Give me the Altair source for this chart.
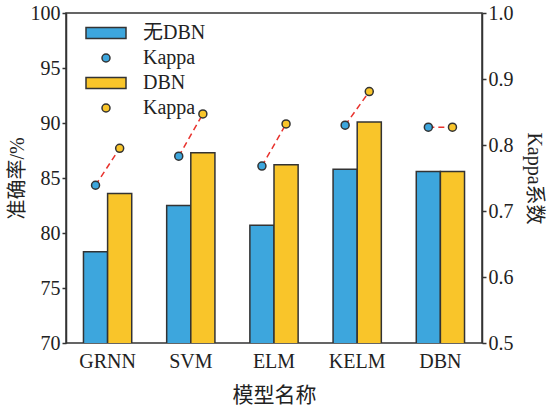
import altair as alt
import pandas as pd

models = ["GRNN", "SVM", "ELM", "KELM", "DBN"]
groups = ["无DBN", "DBN"]
acc_no = [78.3, 82.5, 80.7, 85.8, 85.6]
acc_dbn = [83.6, 87.3, 86.2, 90.1, 85.6]
kappa_no = [0.739, 0.783, 0.768, 0.830, 0.827]
kappa_dbn = [0.795, 0.847, 0.832, 0.881, 0.827]
legend_keys = ["无DBN", "Kappa", "DBN", "Kappa "]

BLUE = "#3DA6DD"
YELLOW = "#F9C52A"
DARK = "#333333"
FONT = "Liberation Serif, Noto Sans CJK SC"

bar_rows = []
pt_rows = []
for i, m in enumerate(models):
    bar_rows.append({"model": m, "group": "无DBN", "acc": acc_no[i], "key": "无DBN"})
    bar_rows.append({"model": m, "group": "DBN", "acc": acc_dbn[i], "key": "DBN"})
    pt_rows.append({"model": m, "group": "无DBN", "kappa": kappa_no[i], "key": "Kappa"})
    pt_rows.append({"model": m, "group": "DBN", "kappa": kappa_dbn[i], "key": "Kappa "})
bars_df = pd.DataFrame(bar_rows)
pts_df = pd.DataFrame(pt_rows)

rect_path = "M-5,-1.4L5,-1.4L5,1.4L-5,1.4Z"

x_enc = alt.X("model:N", sort=models, title="模型名称",
              scale=alt.Scale(paddingInner=0.42, paddingOuter=0.21),
              axis=alt.Axis(labelAngle=0, ticks=False, domain=False, labelPadding=8,
                            titlePadding=13, titleFontSize=21))
xoff = alt.XOffset("group:N", sort=groups, scale=alt.Scale(domain=groups, paddingInner=0, paddingOuter=0))

color_enc = alt.Color("key:N", title=None,
                      scale=alt.Scale(domain=legend_keys, range=[BLUE, BLUE, YELLOW, YELLOW]),
                      legend=alt.Legend(orient="none", legendX=30, legendY=10,
                                        labelExpr="trim(datum.label)",
                                        labelFontSize=20, labelFont=FONT, labelColor="#222",
                                        symbolStrokeColor=DARK, symbolStrokeWidth=1.5,
                                        symbolSize=64, symbolOpacity=1,
                                        rowPadding=5, labelOffset=27, padding=0))
shape_enc = alt.Shape("key:N", title=None,
                      scale=alt.Scale(domain=legend_keys, range=[rect_path, "circle", rect_path, "circle"]))

bars = alt.Chart(bars_df).mark_bar(stroke=DARK, strokeWidth=1.5, opacity=1, clip=True).encode(
    x=x_enc,
    xOffset=xoff,
    y=alt.Y("acc:Q", title="准确率/%",
            scale=alt.Scale(domain=[70, 100], nice=False, zero=False),
            axis=alt.Axis(orient="left", values=[70, 75, 80, 85, 90, 95, 100], grid=False,
                          tickSize=4, titlePadding=3)),
    color=color_enc,
    shape=shape_enc,
)

k_scale = alt.Scale(domain=[0.5, 1.0], nice=False, zero=False)
k_axis = alt.Axis(orient="right", values=[0.5, 0.6, 0.7, 0.8, 0.9, 1.0], format=".1f",
                  grid=False, tickSize=4, titlePadding=10)

lines = alt.Chart(pts_df).mark_line(color="#E8322D", strokeWidth=1.5, strokeDash=[6, 4]).encode(
    x=alt.X("model:N", sort=models),
    xOffset=alt.XOffset("group:N", sort=groups),
    y=alt.Y("kappa:Q", title="Kappa系数", scale=k_scale, axis=k_axis),
    detail="model:N",
)

points = alt.Chart(pts_df).mark_point(filled=True, size=64, stroke=DARK, strokeWidth=1.5, opacity=1).encode(
    x=alt.X("model:N", sort=models),
    xOffset=alt.XOffset("group:N", sort=groups),
    y=alt.Y("kappa:Q", title="Kappa系数", scale=k_scale, axis=k_axis),
    color=color_enc,
    shape=shape_enc,
)

chart = alt.layer(bars, alt.layer(lines, points)).resolve_scale(y="independent").properties(
    width=416, height=330,
    autosize=alt.AutoSizeParams(type="none"),
    padding={"left": 66, "top": 13, "right": 66, "bottom": 63},
    background="white",
).configure_view(stroke=DARK, strokeWidth=1.5).configure_axis(
    labelFont=FONT, titleFont=FONT, labelFontSize=20, titleFontSize=20,
    labelColor="#222", titleColor="#222", domainColor=DARK, tickColor=DARK,
    domainWidth=1.5, tickWidth=1.5, titleFontWeight="normal",
)

chart.save("out.html", embed_options={"renderer": "svg", "actions": False})
